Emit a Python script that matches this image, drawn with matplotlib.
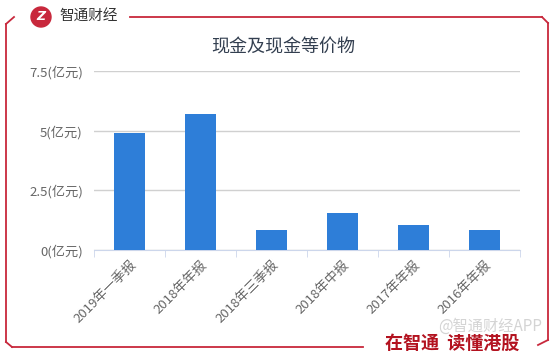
import matplotlib.pyplot as plt
from matplotlib.patches import Ellipse
from matplotlib.lines import Line2D

plt.rcParams['font.family'] = ['Noto Sans CJK SC', 'DejaVu Sans']

categories = ['2019年一季报', '2018年年报', '2018年三季报', '2018年中报', '2017年年报', '2016年年报']
values = [4.90, 5.70, 0.85, 1.55, 1.06, 0.85]
yticks = [0, 2.5, 5, 7.5]
ytick_labels = ['0(亿元)', '2.5(亿元)', '5(亿元)', '7.5(亿元)']

W, H = 554, 356
red = '#c8283c'

fig = plt.figure(figsize=(W / 100, H / 100), dpi=100)


def px(x, y):
    # pixel coords (top-left origin) -> figure fraction
    return x / W, 1 - y / H


def seg(xa, ya, xb, yb):
    (fxa, fya), (fxb, fyb) = px(xa, ya), px(xb, yb)
    fig.add_artist(Line2D([fxa, fxb], [fya, fyb], color=red, lw=1.3))


# frame
seg(6, 24, 6, 342)
seg(6, 24, 14, 17)
seg(130, 17, 542, 17)
seg(542, 17, 548, 23)
seg(548, 23, 548, 340)
seg(548, 340, 538, 345)
seg(6, 342, 12, 347)
seg(12, 347, 363, 347)

# logo
cx, cy = px(41, 17)
fig.add_artist(Ellipse((cx, cy), 20 / W, 20 / H, transform=fig.transFigure, color=red))
fig.text(cx, cy, 'Z', color='white', fontsize=9, fontweight='bold', ha='center', va='center',
         family='DejaVu Sans', style='italic')
fig.text(*px(59, 17), '智通财经', color='#333333', fontsize=10.5, ha='left', va='center')

# bottom slogan and watermark
fig.text(*px(385, 343), '在智通  读懂港股', color='#b3121f', fontsize=13, fontweight='heavy',
         ha='left', va='center')
fig.text(*px(438, 326), '@智通财经APP', color='#d4d4d4', fontsize=11, ha='left', va='center')

# title
fig.text(*px(283, 47), '现金及现金等价物', color='#333f50', fontsize=13, ha='center', va='center')

# chart
x0, x1, ytop, ybot = 94, 520, 71, 250
ax = fig.add_axes([x0 / W, 1 - ybot / H, (x1 - x0) / W, (ybot - ytop) / H])
pos = list(range(len(categories)))
ax.bar(pos, values, width=0.45, color='#2e7ed8', zorder=3)
ax.set_xlim(-0.5, len(categories) - 0.5)
ax.set_ylim(0, 7.5)
ax.set_yticks(yticks)
ax.set_yticklabels(ytick_labels, color='#666666', fontsize=9.5)
ax.yaxis.grid(True, color='#d0d0d0', lw=1)
ax.set_xticks(pos)
ax.set_xticklabels(categories, rotation=45, ha='right', va='top', color='#666666', fontsize=9.5,
                   rotation_mode='anchor')
ax.set_xticks([p + 0.5 for p in [-1] + pos], minor=True)
ax.tick_params(axis='x', which='major', length=0, pad=6)
ax.tick_params(axis='x', which='minor', length=5, color='#ccd6eb')
ax.tick_params(axis='y', length=0, pad=8)
for s in ['top', 'right', 'left']:
    ax.spines[s].set_visible(False)
ax.spines['bottom'].set_color('#ccd6eb')

fig.savefig('out.png', dpi=100)
